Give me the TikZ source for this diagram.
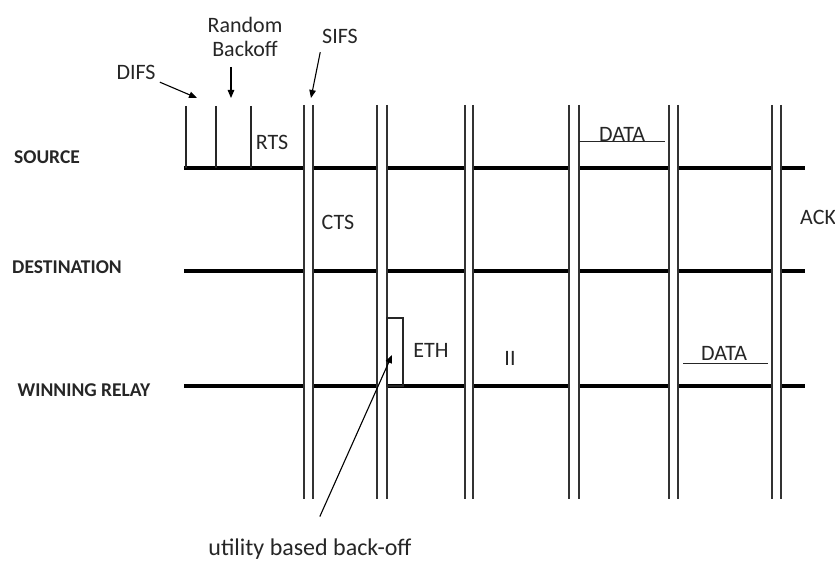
\documentclass[tikz,border=0pt]{standalone}
\usepackage{fontspec}
\setmainfont{Carlito}
\usetikzlibrary{positioning, arrows.meta}

\begin{document}
\begin{tikzpicture}[x=1pt, y=-1pt,
    lane/.style={font=\bfseries\fontsize{19.5}{22}\selectfont, text=black!85, inner sep=0pt},
    lbl/.style={font=\fontsize{22}{24}\selectfont, text=black!85, inner sep=0pt},
    bus/.style={line width=4.6pt, black},
    sep/.style={line width=1.8pt, black!80},
    tick/.style={line width=1.3pt, black!85},
    arr/.style={-{Triangle[length=8pt, width=6.5pt]}, line width=1.1pt, black},
  ]
    \useasboundingbox (0,0) rectangle (835,564);
    % time lines, broken at every double bar
    \foreach \y in {168,271,386}
      \foreach \a/\b in {184/304, 313/377, 387/465, 473/569, 579/669, 678/772, 781/805}
        \draw[bus] (\a,\y) -- (\b,\y);
    \foreach \x in {304,313,377,387,465,473,569,579,669,678,772,781}
      \draw[sep] (\x,105) -- (\x,499);
    \foreach \x in {186,216,251}
      \draw[tick] (\x,106) -- (\x,168);
    \draw[tick] (387,318) rectangle (403,386);
    \draw[tick, line width=1pt] (579,142) -- (665,142);
    \draw[tick, line width=1pt] (683,363) -- (768,363);

    \node[lane] (src) at (47,157) {SOURCE};
    \node[lane] (dst) at (67,267) {DESTINATION};
    \node[lane] (rly) at (84,390) {WINNING RELAY};

    \node[lbl] (difs) at (136,72) {DIFS};
    \node[lbl, align=center] (rb) at (245,37) {Random\\Backoff};
    \node[lbl] (sifs) at (340,36) {SIFS};
    \node[lbl] (rts) at (272,142) {RTS};
    \node[lbl] (cts) at (338,222) {CTS};
    \node[lbl, anchor=west] (ack) at (800,217) {ACK};
    \node[lbl] (eth) at (431,350) {ETH};
    \node[lbl] (two) at (510,358) {II};
    \node[lbl] (dsrc) at (622,134) {DATA};
    \node[lbl] (drly) at (724,353) {DATA};
    \node[lbl, font=\fontsize{24}{26}\selectfont] (ubb) at (310,549) {utility based back-off};

    \coordinate (difstip) at (197,98);
    \coordinate (rbtip) at (231,98);
    \coordinate (sifstip) at (311,98);
    \coordinate (ubbtip) at (392,355);
    \draw[arr, shorten <=7pt] (difs) -- (difstip);
    \draw[arr, shorten <=10pt] (rb.south -| rbtip) -- (rbtip);
    \draw[arr, shorten <=9pt] (sifs.south west) -- (sifstip);
    \draw[arr, shorten <=24pt] (ubb.north) -- (ubbtip);
  \end{tikzpicture}
\end{document}
